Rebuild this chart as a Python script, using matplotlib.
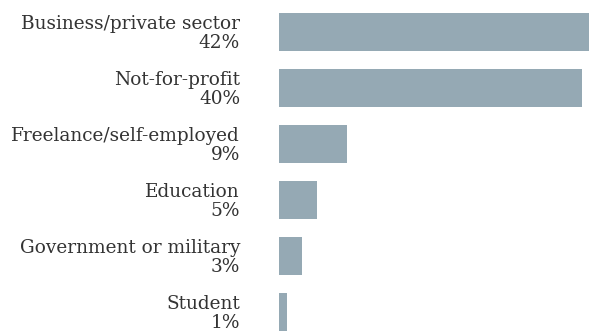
import matplotlib.pyplot as plt

# === Data ===
categories = ['Business/private sector', 'Not-for-profit', 'Freelance/self-employed',
              'Education', 'Government or military', 'Student']
shares = [42, 40, 9, 5, 3, 1]

BAR_COLOR = '#95a9b4'
TEXT_COLOR = '#333333'

W, H = 589, 335
fig = plt.figure(figsize=(W / 100, H / 100), dpi=100)

# axes placed in pixel terms: bars start at x=279, rows every 56 px
px_per_pct = 7.575
ax_left = 279
ax_top = 4
ax_bottom = 340
ax = fig.add_axes([ax_left / W, (H - ax_bottom) / H, 1 - ax_left / W, (ax_bottom - ax_top) / H])

y = list(range(len(categories)))
ax.barh(y, shares, height=0.68, color=BAR_COLOR)
ax.set_ylim(len(categories) - 0.5, -0.5)
ax.set_xlim(0, (W - ax_left) / px_per_pct)
ax.axis('off')

# two-line labels: name over percentage, right aligned left of the bars
label_x = -(ax_left - 240) / (W - ax_left)
for i, (name, val) in enumerate(zip(categories, shares)):
    ax.text(label_x, i + 0.02, f'{name}\n{val}%', transform=ax.get_yaxis_transform(),
            ha='right', va='center', multialignment='right',
            fontsize=13.3, family='DejaVu Serif', color=TEXT_COLOR,
            fontweight='light', linespacing=1.08)

fig.savefig('out.png', dpi=100)
